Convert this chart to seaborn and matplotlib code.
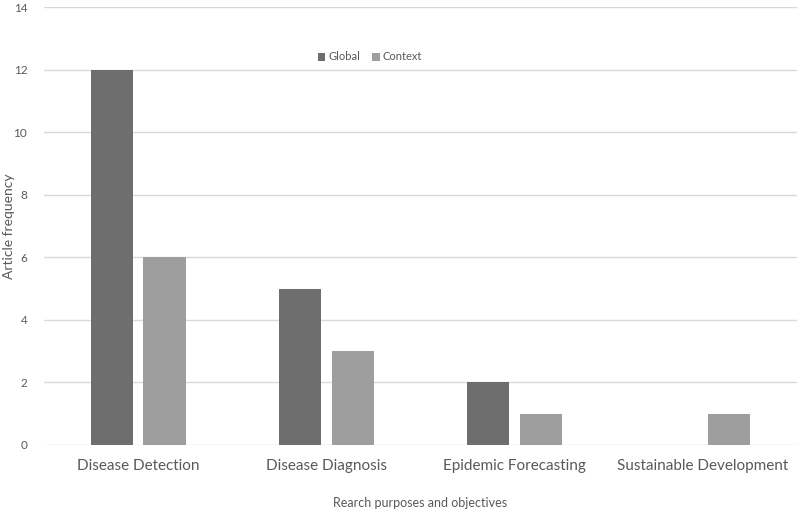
import matplotlib
matplotlib.use("Agg")
import matplotlib.pyplot as plt
import seaborn as sns
import pandas as pd

categories = ["Disease Detection", "Disease Diagnosis", "Epidemic Forecasting", "Sustainable Development"]
global_vals = [12, 5, 2, 0]
context_vals = [6, 3, 1, 1]
series_names = ["Global", "Context"]
y_ticks = [0, 2, 4, 6, 8, 10, 12, 14]

df = pd.DataFrame({
    "category": categories * 2,
    "value": global_vals + context_vals,
    "series": [series_names[0]] * 4 + [series_names[1]] * 4,
})

sns.set_theme(style="white")
plt.rcParams["font.family"] = ["Lato", "DejaVu Sans"]
text_color = "#595959"

fig = plt.figure(figsize=(7.99, 5.12), dpi=100)
ax = fig.add_axes([0.055, 0.131, 0.9425, 0.855])

sns.barplot(data=df, x="category", y="value", hue="series",
            palette=["#6e6e6e", "#9e9e9e"], width=0.56, gap=0.2,
            saturation=1, linewidth=0, edgecolor="none", ax=ax, legend=True)

ax.set_ylim(0, 14)
ax.set_xlim(-0.5, 3.5)
ax.set_yticks(y_ticks)
ax.set_yticklabels([str(t) for t in y_ticks], fontsize=8.5, color=text_color)
ax.tick_params(axis="x", labelsize=11, labelcolor=text_color, length=0, pad=10)
ax.tick_params(axis="y", length=0, pad=12)
ax.yaxis.grid(True, color="#d9d9d9", linewidth=1)
ax.set_axisbelow(True)
for s in ax.spines.values():
    s.set_visible(False)

ax.set_ylabel("Article frequency", fontsize=10, color=text_color)
ax.yaxis.set_label_coords(-0.0385, 0.5)
ax.set_xlabel("Rearch purposes and objectives", fontsize=9, color=text_color)
ax.xaxis.set_label_coords(0.5, -0.119)

handles, labels = ax.get_legend_handles_labels()
ax.legend(handles, labels, loc="center", bbox_to_anchor=(370 / 799, 1 - 57 / 512),
          bbox_transform=fig.transFigure, ncol=2, frameon=False, fontsize=8,
          handlelength=0.7, handleheight=0.7, handletextpad=0.3, columnspacing=1.0,
          labelcolor=text_color)

fig.savefig("out.png", dpi=100)
